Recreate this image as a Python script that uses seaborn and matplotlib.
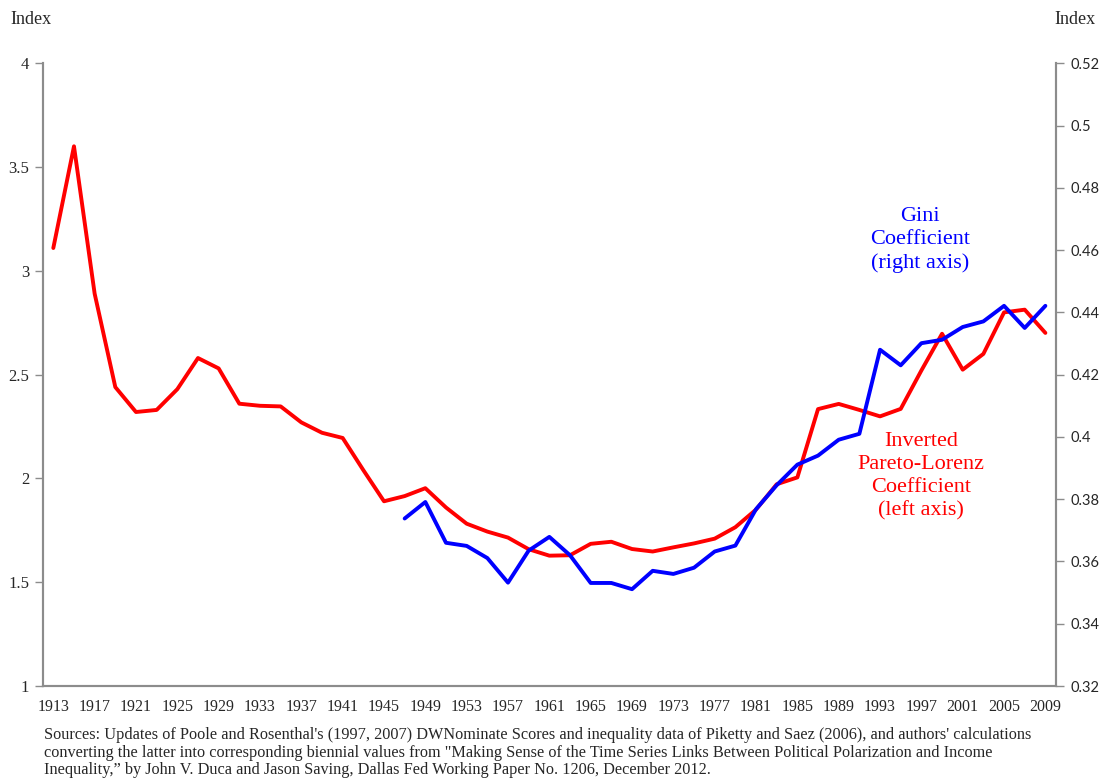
import numpy as np
import pandas as pd
import matplotlib
matplotlib.use("Agg")
import matplotlib.pyplot as plt
import seaborn as sns

# Data (biennial, 1913-2009)
years = list(range(1913, 2010, 2))
pareto_lorenz = [3.11, 3.60, 2.89, 2.44, 2.32, 2.33, 2.43, 2.58, 2.53, 2.36,
                 2.35, 2.347, 2.27, 2.22, 2.195, 2.04, 1.89, 1.915, 1.953, 1.86,
                 1.782, 1.744, 1.715, 1.659, 1.628, 1.63, 1.685, 1.695, 1.66, 1.648,
                 1.668, 1.687, 1.71, 1.765, 1.85, 1.972, 2.005, 2.334, 2.359, 2.33,
                 2.299, 2.335, 2.52, 2.697, 2.524, 2.60, 2.80, 2.813, 2.701]

gini_years = list(range(1947, 2010, 2))
gini = [0.3738, 0.3791, 0.366, 0.365, 0.3611, 0.3532, 0.3635, 0.3679, 0.362, 0.3531,
        0.3531, 0.3511, 0.357, 0.356, 0.358, 0.3632, 0.3651, 0.3768, 0.3845, 0.3911,
        0.394, 0.3991, 0.401, 0.428, 0.423, 0.4301, 0.4312, 0.4353, 0.4371, 0.4421,
        0.435, 0.4421]

left_ticks = [1, 1.5, 2, 2.5, 3, 3.5, 4]
left_labels = ["1", "1.5", "2", "2.5", "3", "3.5", "4"]
right_ticks = [0.32, 0.34, 0.36, 0.38, 0.40, 0.42, 0.44, 0.46, 0.48, 0.50, 0.52]
right_labels = ["0.32", "0.34", "0.36", "0.38", "0.4", "0.42", "0.44", "0.46", "0.48", "0.5", "0.52"]
label_years = list(range(1913, 2010, 4))

df_red = pd.DataFrame({"year": years, "value": pareto_lorenz})
df_blue = pd.DataFrame({"year": gini_years, "value": gini})

sns.set_style("white")
plt.rcParams['font.family'] = ['Liberation Serif', 'DejaVu Serif']

spine_gray = "#8c8c8c"

fig = plt.figure(figsize=(11.02, 7.81), dpi=100)
ax = fig.add_axes([0.039, 0.1216, 0.919, 0.7974])
ax2 = ax.twinx()

sns.lineplot(data=df_red, x="year", y="value", ax=ax, color="#ff0000", linewidth=2.8)
sns.lineplot(data=df_blue, x="year", y="value", ax=ax2, color="#0000ff", linewidth=2.8)

ax.set_xlim(1912, 2010)
ax.set_ylim(1, 4)
ax2.set_ylim(0.32, 0.52)

ax.set_xlabel("")
ax.set_ylabel("")
ax2.set_ylabel("")

# x axis: ticks at category boundaries, labels every other category
ax.set_xticks(label_years)
ax.set_xticklabels([str(y) for y in label_years], fontsize=11.5)
ax.set_xticks(list(range(1912, 2011, 2)), minor=True)
ax.tick_params(axis="x", which="major", length=0, pad=9)
ax.tick_params(axis="x", which="minor", length=6, width=1, color=spine_gray, direction="out")

ax.set_yticks(left_ticks)
ax.set_yticklabels(left_labels, fontsize=12)
ax.tick_params(axis="y", length=6, width=1, color=spine_gray, direction="out", pad=4, left=True)

ax2.set_yticks(right_ticks)
ax2.set_yticklabels(right_labels, fontsize=10.5, family="Lato")
ax2.tick_params(axis="y", length=6, width=1, color=spine_gray, direction="out", pad=5, right=True)

for a in (ax, ax2):
    a.spines["top"].set_visible(False)
    for s in ("left", "right", "bottom"):
        a.spines[s].set_color(spine_gray)
        a.spines[s].set_linewidth(1.5)
    a.grid(False)

fig.text(0.009, 0.975, "Index", fontsize=13, ha="left", va="center")
fig.text(0.994, 0.975, "Index", fontsize=13, ha="right", va="center")

ax.text(1996.9, 3.15, "Gini\nCoefficient\n(right axis)", color="#0000ff", fontsize=16,
        ha="center", va="center", linespacing=1.3)
ax.text(1997.0, 2.01, "Inverted\nPareto-Lorenz\nCoefficient\n(left axis)", color="#ff0000",
        fontsize=16, ha="center", va="center", linespacing=1.3)

fig.text(0.040, 0.036,
         "Sources: Updates of Poole and Rosenthal's (1997, 2007) DWNominate Scores and inequality data of Piketty and Saez (2006), and authors' calculations\n"
         "converting the latter into corresponding biennial values from \"Making Sense of the Time Series Links Between Political Polarization and Income\n"
         "Inequality,\u201d by John V. Duca and Jason Saving, Dallas Fed Working Paper No. 1206, December 2012.",
         fontsize=11.7, ha="left", va="center", linespacing=1.13)

fig.savefig("out.png", dpi=100)
